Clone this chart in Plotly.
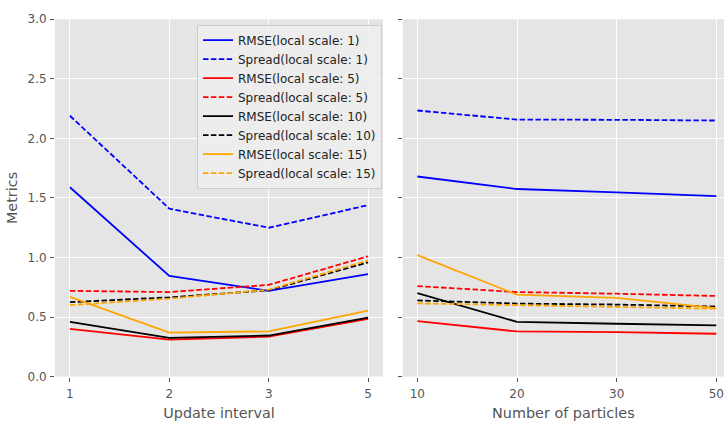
import plotly.graph_objects as go

# ---- data ----
update_interval = ["1", "2", "3", "5"]
n_particles = ["10", "20", "30", "50"]
scales = ["1", "5", "10", "15"]
colors = ["#0000FF", "#FF0000", "#000000", "#FFA500"]

rmse_interval = {
    "1": [1.59, 0.845, 0.72, 0.86],
    "5": [0.40, 0.31, 0.335, 0.485],
    "10": [0.46, 0.325, 0.345, 0.495],
    "15": [0.67, 0.37, 0.38, 0.555],
}
spread_interval = {
    "1": [2.19, 1.41, 1.25, 1.44],
    "5": [0.72, 0.71, 0.77, 1.01],
    "10": [0.625, 0.665, 0.725, 0.96],
    "15": [0.60, 0.655, 0.73, 0.975],
}
rmse_particles = {
    "1": [1.68, 1.575, 1.546, 1.516],
    "5": [0.465, 0.379, 0.373, 0.36],
    "10": [0.70, 0.46, 0.444, 0.43],
    "15": [1.02, 0.688, 0.661, 0.575],
}
spread_particles = {
    "1": [2.234, 2.158, 2.156, 2.15],
    "5": [0.76, 0.71, 0.696, 0.677],
    "10": [0.64, 0.613, 0.605, 0.589],
    "15": [0.615, 0.60, 0.59, 0.57],
}
y_ticks = [0.0, 0.5, 1.0, 1.5, 2.0, 2.5, 3.0]

W, H = 724, 422
FONT = "DejaVu Sans"
TXT = "#555555"
DASH = "5.5px,2.4px"
LW = 1.8

fig = go.Figure()
xpos_l = list(range(len(update_interval)))
xpos_r = list(range(len(n_particles)))
for s, c in zip(scales, colors):
    fig.add_trace(go.Scatter(x=xpos_l, y=rmse_interval[s], mode="lines",
                             line=dict(color=c, width=LW),
                             name=f"RMSE(local scale: {s})",
                             legendgroup=f"r{s}", xaxis="x", yaxis="y"))
    fig.add_trace(go.Scatter(x=xpos_l, y=spread_interval[s], mode="lines",
                             line=dict(color=c, width=LW, dash=DASH),
                             name=f"Spread(local scale: {s})",
                             legendgroup=f"s{s}", xaxis="x", yaxis="y"))
for s, c in zip(scales, colors):
    fig.add_trace(go.Scatter(x=xpos_r, y=rmse_particles[s], mode="lines",
                             line=dict(color=c, width=LW),
                             name=f"RMSE(local scale: {s})", showlegend=False,
                             legendgroup=f"r{s}", xaxis="x2", yaxis="y2"))
    fig.add_trace(go.Scatter(x=xpos_r, y=spread_particles[s], mode="lines",
                             line=dict(color=c, width=LW, dash=DASH),
                             name=f"Spread(local scale: {s})", showlegend=False,
                             legendgroup=f"s{s}", xaxis="x2", yaxis="y2"))

ydom = [(H - 382.3) / H, (H - 12.7) / H]
tickfont = dict(family=FONT, size=12, color=TXT)
titlefont = dict(family=FONT, size=14.4, color=TXT)
common_x = dict(showgrid=True, gridcolor="white", gridwidth=1, zeroline=False,
                ticks="outside", ticklen=4, tickcolor=TXT, tickfont=tickfont,
                ticklabelstandoff=2, showline=False)
common_y = dict(showgrid=True, gridcolor="white", gridwidth=1, zeroline=False,
                ticks="outside", ticklen=4, tickcolor=TXT, tickfont=tickfont,
                ticklabelstandoff=1,
                range=[0, 3], tickvals=y_ticks, tickformat=".1f", domain=ydom)

fig.update_layout(
    width=W, height=H,
    margin=dict(l=0, r=0, t=0, b=0),
    paper_bgcolor="white",
    plot_bgcolor="#E5E5E5",
    font=dict(family=FONT, color=TXT),
    xaxis=dict(common_x, domain=[55 / W, 383 / W], anchor="y",
               range=[-0.15, 3.15], tickvals=xpos_l, ticktext=update_interval,
               title=dict(text="Update interval", font=titlefont, standoff=7)),
    xaxis2=dict(common_x, domain=[402.7 / W, 1.0], anchor="y2",
                range=[-0.147, 3.077], tickvals=xpos_r, ticktext=n_particles,
                title=dict(text="Number of particles", font=titlefont, standoff=7)),
    yaxis=dict(common_y, anchor="x",
               title=dict(text="Metrics", font=titlefont, standoff=6)),
    yaxis2=dict(common_y, anchor="x2", matches="y", showticklabels=False),
    legend=dict(x=197 / W, y=1 - 18.3 / H, xanchor="left", yanchor="top",
                bgcolor="rgba(238,238,238,0.85)", bordercolor="#CCCCCC", borderwidth=1,
                font=dict(family=FONT, size=12, color="#222222"),
                tracegroupgap=0, itemwidth=30),
)

fig.write_html("out.html")
